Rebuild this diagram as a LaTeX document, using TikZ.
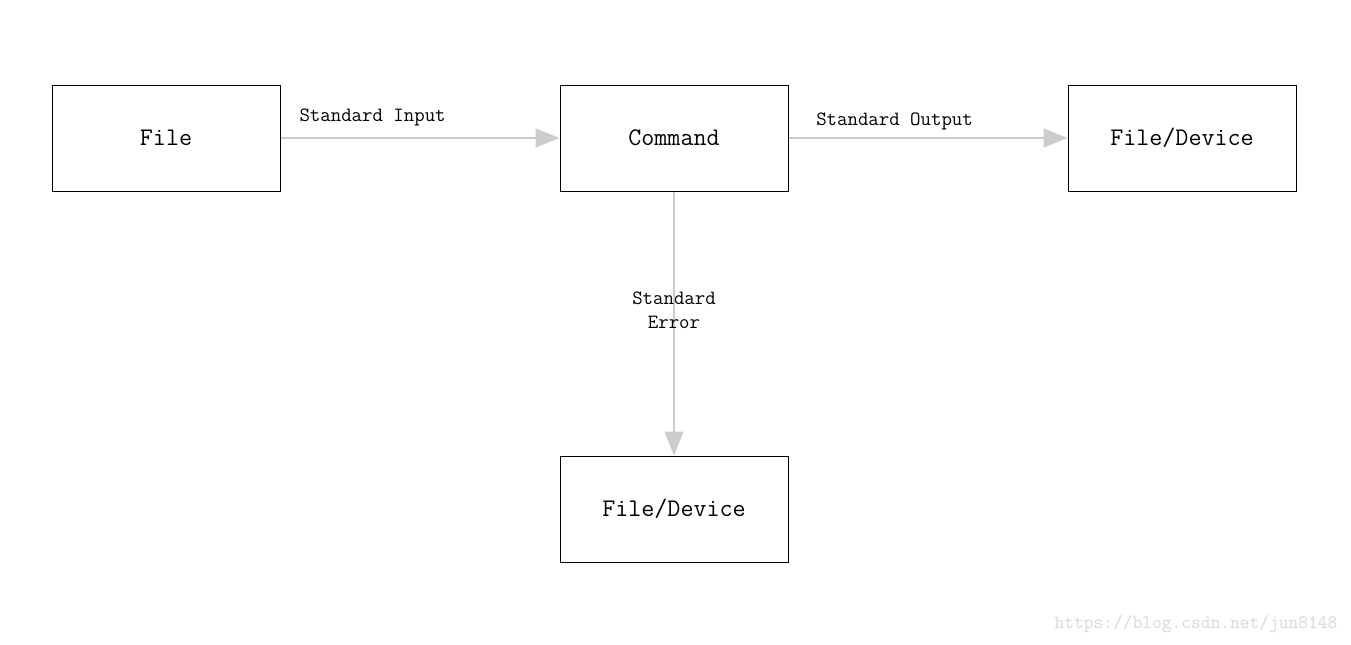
\documentclass[tikz,border=0pt]{standalone}
\usepackage{fontspec}
\usepackage{tikz}
\usetikzlibrary{positioning}
\usetikzlibrary{arrows.meta}
\definecolor{flowgray}{RGB}{204,204,204}
\definecolor{markgray}{RGB}{215,215,215}
\tikzset{io box/.style={rectangle,draw,line width=0.75pt,minimum width=171pt,minimum height=79.5pt,inner sep=0pt,font=\ttfamily\fontsize{19}{22}\selectfont},
	stream/.style={color=flowgray,line width=1.9pt,-{Triangle[length=18pt,width=14pt]}},
	stream label/.style={font=\ttfamily\fontsize{15.2}{18.5}\selectfont,text=black},}

\begin{document}
\begin{tikzpicture}[x=0.75pt,y=-0.75pt,node distance=209.25pt]
		\useasboundingbox (0,0) rectangle (1351,644);
		\node[io box] (cmd) at (674,138) {Command};
	    \node[io box] (src) [left = of cmd] {File};
	    \node[io box] (out) [right = of cmd] {File/Device};
	    \node[io box] (err) [below = 198pt of cmd] {File/Device};
	
	    \path[stream]
	    (src) edge node[stream label,pos=0.33,above=5pt] {Standard Input} (cmd)
	    (cmd) edge node[stream label,pos=0.38,above=2pt] {Standard Output} (out)
	    (cmd) edge node[stream label,pos=0.45,align=center] {Standard\\ Error} (err);
	
	    \node[font=\ttfamily\fontsize{14.2}{16}\selectfont,text=markgray,anchor=south east] (mark) at (1342,638) {https://blog.csdn.net/jun8148};
	\end{tikzpicture}
\end{document}
